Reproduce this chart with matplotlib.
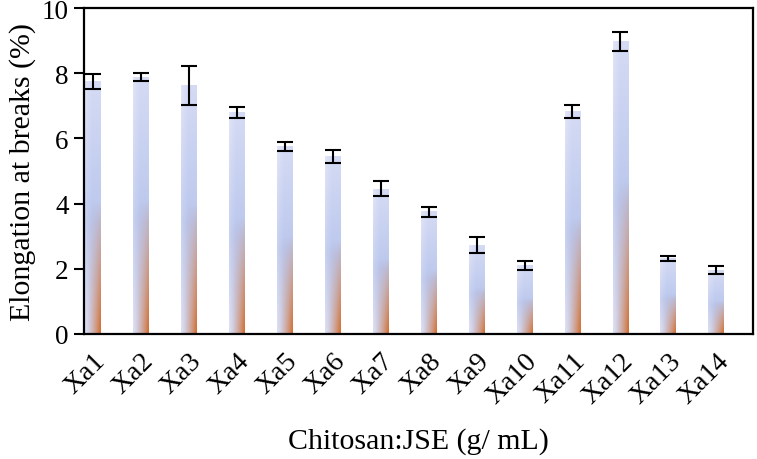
import numpy as np
import matplotlib.pyplot as plt

# data
labels = ['Xa1', 'Xa2', 'Xa3', 'Xa4', 'Xa5', 'Xa6', 'Xa7', 'Xa8', 'Xa9',
          'Xa10', 'Xa11', 'Xa12', 'Xa13', 'Xa14']
elong = [7.75, 7.89, 7.62, 6.80, 5.75, 5.46, 4.45, 3.75, 2.72,
         2.10, 6.84, 8.98, 2.31, 1.95]
err = [0.23, 0.12, 0.60, 0.17, 0.15, 0.20, 0.23, 0.16, 0.25,
       0.13, 0.20, 0.29, 0.07, 0.12]

plt.rcParams['font.family'] = ['Liberation Serif', 'DejaVu Serif']


def bar_gradient(nx=40, ny=200):
    # u: left->right, v: bottom->top (row 0 = top for imshow)
    u = np.linspace(0, 1, nx)[None, :]
    v = np.linspace(1, 0, ny)[:, None]
    light = np.array([0.89, 0.90, 0.97])
    blue = np.array([0.73, 0.78, 0.93])
    orange = np.array([0.82, 0.42, 0.17])
    # horizontal: lighter on the left edge
    hmix = np.clip(u * 2.2, 0, 1) ** 0.8
    # vertical: lighter near top, more blue around the middle
    vmix = np.clip(1 - np.abs(v - 0.45) / 0.55, 0, 1)
    t = (0.35 * hmix + 0.65 * vmix)[..., None]
    base = light * (1 - t) + blue * t
    # orange glow towards bottom-right
    w = (np.clip((0.52 - v) / 0.52, 0, 1) ** 0.9) * (u ** 1.5)
    w = w[..., None]
    return base * (1 - w) + orange * w


grad = bar_gradient()

fig = plt.figure(figsize=(7.57, 4.6), dpi=100)
ax = fig.add_axes([0.111, 0.272, 0.884, 0.708])

x = np.arange(len(labels))
bw = 0.33
for xi, h in zip(x, elong):
    ax.imshow(grad, extent=[xi - bw / 2, xi + bw / 2, 0, h],
              aspect='auto', interpolation='bilinear', zorder=2)

ax.errorbar(x, elong, yerr=err, fmt='none', ecolor='black',
            elinewidth=1.5, capsize=5.5, capthick=1.5, zorder=3)

ax.set_xlim(-0.19, 13.77)
ax.set_ylim(0, 10)
ax.set_yticks([0, 2, 4, 6, 8, 10])
ax.set_xticks(x)
ax.set_xticklabels(labels, rotation=45, ha='right', rotation_mode='anchor')
ax.tick_params(axis='x', length=0, pad=10, labelsize=20)
ax.tick_params(axis='y', length=7, width=1.5, direction='out', pad=4, labelsize=19.5)

for s in ax.spines.values():
    s.set_linewidth(1.6)
    s.set_color('black')

ax.set_ylabel('Elongation at breaks (%)', fontsize=21.5, labelpad=4)
ax.set_xlabel('Chitosan:JSE (g/ mL)', fontsize=21.5, labelpad=14)

fig.savefig('out.png', dpi=100)
